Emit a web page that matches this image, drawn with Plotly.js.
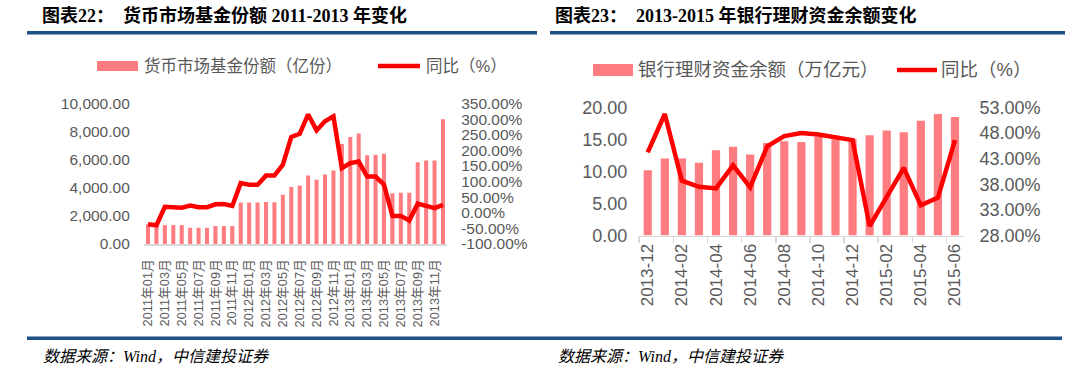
<!DOCTYPE html>
<html>
<head>
<meta charset="utf-8">
<script src="https://cdn.plot.ly/plotly-3.0.1.min.js"></script>
<style>html,body{margin:0;padding:0;background:#fff;}#chart{width:1080px;height:374px;}</style>
</head>
<body>
<div id="chart"></div>
<script>
// ---------- Chart 22 data ----------
const months22 = ["2011年01月","2011年02月","2011年03月","2011年04月","2011年05月","2011年06月","2011年07月","2011年08月","2011年09月","2011年10月","2011年11月","2011年12月",
"2012年01月","2012年02月","2012年03月","2012年04月","2012年05月","2012年06月","2012年07月","2012年08月","2012年09月","2012年10月","2012年11月","2012年12月",
"2013年01月","2013年02月","2013年03月","2013年04月","2013年05月","2013年06月","2013年07月","2013年08月","2013年09月","2013年10月","2013年11月","2013年12月"];
const shares22 = [1400,1400,1360,1360,1360,1160,1160,1160,1290,1290,1290,2950,
2950,2950,2990,2980,3500,4050,4170,4880,4570,4950,5240,7120,
7620,7860,6310,6360,6430,3620,3640,3640,5810,5950,5950,8880];
const yoy22 = [-37,-40,19,19,16,23,18,18,27,28,22,95,
90,90,119,119,154,243,253,315,264,293,309,143,
159,164,116,116,90,-10,-10,-25,29,22,15,25];
const tickLabels22 = ["2011年01月","2011年03月","2011年05月","2011年07月","2011年09月","2011年11月","2012年01月","2012年03月","2012年05月","2012年07月","2012年09月","2012年11月","2013年01月","2013年03月","2013年05月","2013年07月","2013年09月","2013年11月"];
const pctTickVals22 = [-100,-50,0,50,100,150,200,250,300,350];
const pctTickText22 = ["-100.00%","-50.00%","0.00%","50.00%","100.00%","150.00%","200.00%","250.00%","300.00%","350.00%"];

// ---------- Chart 23 data ----------
const months23 = ["2013-12","2014-01","2014-02","2014-03","2014-04","2014-05","2014-06","2014-07","2014-08","2014-09","2014-10","2014-11","2014-12","2015-01","2015-02","2015-03","2015-04","2015-05","2015-06"];
const balance23 = [10.2,12.0,12.0,11.35,13.3,13.85,12.65,14.45,14.7,14.6,15.4,15.0,15.1,15.65,16.4,16.1,17.9,18.95,18.5];
const yoy23 = [44.2,51.7,38.7,37.5,37.2,41.7,37.4,45.4,47.4,48.0,47.7,47.1,46.6,29.85,35.7,41.2,33.9,35.4,46.6];
const tickLabels23 = ["2013-12","2014-02","2014-04","2014-06","2014-08","2014-10","2014-12","2015-02","2015-04","2015-06"];

// ---------- styling ----------
const W = 1080, H = 374;
const px = v => v / W;
const py = v => 1 - v / H;
const BAR = "#FF7C80", LINE = "#FF0000", GREY = "#595959", AXIS = "#D9D9D9", BLUE = "#1D5186";
const sans = "Liberation Sans, Arial, Noto Sans CJK SC, sans-serif";
const serif = "Liberation Serif, Times New Roman, Noto Sans CJK SC, serif";

const traces = [
  {type:"bar", x:months22, y:shares22, xaxis:"x", yaxis:"y", marker:{color:BAR}, name:"货币市场基金份额（亿份）", showlegend:false},
  {type:"scatter", mode:"lines", x:months22, y:yoy22, xaxis:"x", yaxis:"y2", line:{color:LINE, width:4.5}, name:"同比（%）", showlegend:false},
  {type:"bar", x:months23, y:balance23, xaxis:"x2", yaxis:"y3", marker:{color:BAR}, name:"银行理财资金余额（万亿元）", showlegend:false},
  {type:"scatter", mode:"lines", x:months23, y:yoy23, xaxis:"x2", yaxis:"y4", line:{color:LINE, width:4.5}, name:"同比（%）", showlegend:false}
];

const tickFontL = {family:sans, size:15.5, color:GREY};
const tickFontR = {family:sans, size:18, color:GREY};

const layout = {
  width:W, height:H, margin:{l:0,r:0,t:0,b:0},
  paper_bgcolor:"#fff", plot_bgcolor:"rgba(0,0,0,0)",
  bargap:0.52,
  xaxis:{domain:[px(143.8), px(447.2)], anchor:"y", type:"category", categoryorder:"array", categoryarray:months22,
    range:[-0.5,35.5], tickmode:"array", tickvals:tickLabels22, ticktext:tickLabels22, tickangle:-90,
    tickfont:{family:sans, size:12.8, color:GREY}, showline:true, linecolor:AXIS, linewidth:2, ticks:"", showgrid:false, zeroline:false, ticklabelstandoff:8},
  yaxis:{domain:[py(244), py(103.5)], anchor:"x", range:[0,10000], tickmode:"linear", tick0:0, dtick:2000, tickformat:",.2f",
    tickfont:tickFontL, showgrid:false, zeroline:false, showline:false, ticks:"", ticklabelstandoff:13},
  yaxis2:{overlaying:"y", anchor:"x", side:"right", range:[-100,350], tickmode:"array", tickvals:pctTickVals22, ticktext:pctTickText22,
    tickfont:tickFontL, showgrid:false, zeroline:false, showline:false, ticks:"", ticklabelstandoff:13},
  xaxis2:{domain:[px(639.2), px(963.5)], anchor:"y3", type:"category", categoryorder:"array", categoryarray:months23,
    range:[-0.5,18.5], tickmode:"array", tickvals:tickLabels23, ticktext:tickLabels23, tickangle:-90, tickson:"boundaries",
    tickfont:{family:sans, size:17, color:GREY}, showline:true, linecolor:AXIS, linewidth:1.5, ticks:"outside", ticklen:6, tickcolor:AXIS, tickwidth:1.5, showgrid:false, zeroline:false},
  yaxis3:{domain:[py(235.6), py(107.3)], anchor:"x2", range:[0,20], tickmode:"linear", tick0:0, dtick:5, tickformat:".2f",
    tickfont:tickFontR, showgrid:false, zeroline:false, showline:false, ticks:"", ticklabelstandoff:11},
  yaxis4:{overlaying:"y3", anchor:"x2", side:"right", range:[28,53], tickmode:"linear", tick0:28, dtick:5, tickformat:".2f", ticksuffix:"%",
    tickfont:tickFontR, showgrid:false, zeroline:false, showline:false, ticks:"", ticklabelstandoff:15},
  shapes:[
    {type:"rect", xref:"paper", yref:"paper", x0:px(27), x1:px(537), y0:py(34.5), y1:py(31), fillcolor:BLUE, line:{width:0}},
    {type:"rect", xref:"paper", yref:"paper", x0:px(550), x1:px(1065), y0:py(34.5), y1:py(31), fillcolor:BLUE, line:{width:0}},
    {type:"rect", xref:"paper", yref:"paper", x0:px(27), x1:px(1062), y0:py(340), y1:py(336.5), fillcolor:BLUE, line:{width:0}},
    {type:"rect", xref:"paper", yref:"paper", x0:px(97), x1:px(138), y0:py(71), y1:py(61), fillcolor:BAR, line:{width:0}},
    {type:"line", xref:"paper", yref:"paper", x0:px(378), x1:px(420), y0:py(66), y1:py(66), line:{color:LINE, width:4.5}},
    {type:"rect", xref:"paper", yref:"paper", x0:px(593), x1:px(633), y0:py(76), y1:py(64), fillcolor:BAR, line:{width:0}},
    {type:"line", xref:"paper", yref:"paper", x0:px(897), x1:px(937), y0:py(70), y1:py(70), line:{color:LINE, width:4.5}}
  ],
  annotations:[
    {xref:"paper", yref:"paper", x:px(40), y:py(16), xanchor:"left", yanchor:"middle", showarrow:false,
      text:"<b>图表22：  货币市场基金份额 2011-2013 年变化</b>", font:{family:serif, size:18, color:"#000"}},
    {xref:"paper", yref:"paper", x:px(553), y:py(16), xanchor:"left", yanchor:"middle", showarrow:false,
      text:"<b>图表23：  2013-2015 年银行理财资金余额变化</b>", font:{family:serif, size:18, color:"#000"}},
    {xref:"paper", yref:"paper", x:px(142), y:py(66), xanchor:"left", yanchor:"middle", showarrow:false,
      text:"货币市场基金份额（亿份）", font:{family:sans, size:16.5, color:GREY}},
    {xref:"paper", yref:"paper", x:px(424), y:py(66), xanchor:"left", yanchor:"middle", showarrow:false,
      text:"同比（%）", font:{family:sans, size:16.5, color:GREY}},
    {xref:"paper", yref:"paper", x:px(636), y:py(70), xanchor:"left", yanchor:"middle", showarrow:false,
      text:"银行理财资金余额（万亿元）", font:{family:sans, size:18.5, color:GREY}},
    {xref:"paper", yref:"paper", x:px(939), y:py(70), xanchor:"left", yanchor:"middle", showarrow:false,
      text:"同比（%）", font:{family:sans, size:18.5, color:GREY}},
    {xref:"paper", yref:"paper", x:px(41), y:py(356), xanchor:"left", yanchor:"middle", showarrow:false,
      text:"<i>数据来源：Wind，中信建投证券</i>", font:{family:serif, size:16, color:"#000"}},
    {xref:"paper", yref:"paper", x:px(556), y:py(356), xanchor:"left", yanchor:"middle", showarrow:false,
      text:"<i>数据来源：Wind，中信建投证券</i>", font:{family:serif, size:16, color:"#000"}}
  ]
};

Plotly.newPlot("chart", traces, layout, {staticPlot:true, displayModeBar:false});
</script>
</body>
</html>
